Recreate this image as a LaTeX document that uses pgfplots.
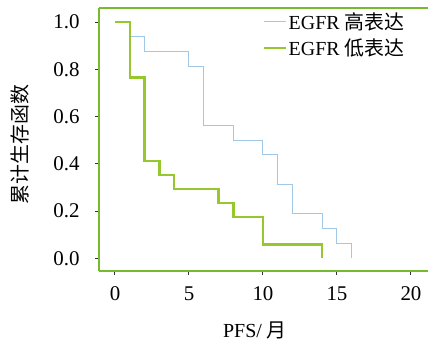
\documentclass[border=0pt]{standalone}
\usepackage{fontspec}
\setmainfont{Liberation Serif}
\newfontfamily\cjk{Noto Sans CJK SC}
\usepackage{pgfplots}
\pgfplotsset{compat=1.18}
\definecolor{axgreen}{RGB}{118,186,48}
\definecolor{lowgreen}{RGB}{150,200,45}
\definecolor{highblue}{RGB}{160,200,232}
\begin{document}
\begin{tikzpicture}[x=1bp,y=1bp]
\useasboundingbox (0,0) rectangle (428,342);
\begin{axis}[
  at={(99bp,71bp)}, anchor=south west,
  scale only axis, width=329bp, height=263bp,
  xmin=-1.08, xmax=21.15, ymin=-0.054, ymax=1.06,
  axis x line=box, axis y line=left,
  axis line style={axgreen, line width=1.3pt, -},
  xtick={0,5,10,15,20}, ytick={0,0.2,0.4,0.6,0.8,1.0},
  xtick pos=bottom, ytick pos=left,
  tick align=outside, major tick length=4bp,
  tick style={black!80, line width=1pt},
  yticklabel style={/pgf/number format/fixed, /pgf/number format/fixed zerofill, /pgf/number format/precision=1, xshift=-12bp},
  /pgf/number format/assume math mode=true,
  ticklabel style={font=\fontsize{21}{23}\selectfont},
  xticklabel style={yshift=-8bp},
  xlabel={PFS/ {\cjk 月}},
  ylabel={\cjk 累计生存函数},
  every axis x label/.style={at={(axis description cs:0.474,-0.225)}, anchor=center, inner sep=1bp, font=\fontsize{20}{22}\selectfont},
  every axis y label/.style={at={(axis description cs:-0.24,0.481)}, anchor=center, rotate=90, font=\fontsize{20}{22}\selectfont},
  legend style={at={(axis description cs:0.495,0.995)}, anchor=north west, draw=none, fill=none,
    font=\fontsize{20}{22}\selectfont, row sep=4bp, inner sep=1bp},
  legend cell align=left,
  legend image code/.code={\draw[#1] (0cm,0cm) -- (0.75cm,0cm);},
]
\addplot[highblue, line width=1pt, const plot] coordinates {
(0,1.0) (1,0.9375) (2,0.875) (5,0.8125) (6,0.5625) (8,0.5) (10,0.4375) (11,0.3125) (12,0.1875) (14,0.125) (15,0.0625) (16,0.0625) (16,0.0)};
\addlegendentry{EGFR {\cjk 高表达}}
\addplot[lowgreen, line width=2.4pt, const plot] coordinates {
(0,1.0) (1,0.765) (2,0.412) (3,0.353) (4,0.294) (7,0.235) (8,0.176) (10,0.059) (14,0.059) (14,0.0)};
\addlegendentry{EGFR {\cjk 低表达}}
\end{axis}
\end{tikzpicture}
\end{document}
